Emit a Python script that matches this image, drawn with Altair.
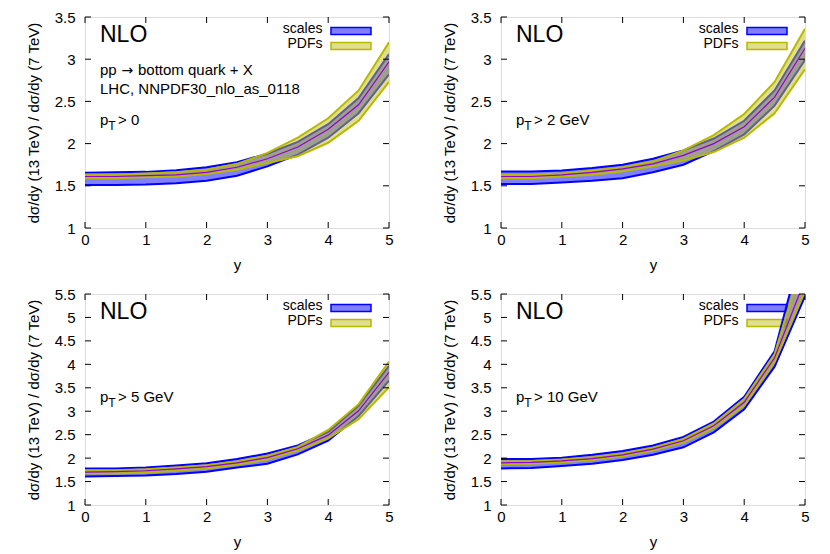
import altair as alt
import pandas as pd

# ---------------- data ----------------
y_rap = [0, 0.5, 1, 1.5, 2, 2.5, 3, 3.5, 4, 4.5, 5]

# pT > 0
c1 = [1.61, 1.61, 1.62, 1.63, 1.66, 1.72, 1.82, 1.96, 2.17, 2.46, 2.97]
su1 = [1.655, 1.66, 1.665, 1.685, 1.72, 1.78, 1.88, 2.02, 2.23, 2.54, 3.06]
sl1 = [1.51, 1.51, 1.515, 1.53, 1.56, 1.62, 1.73, 1.87, 2.07, 2.36, 2.82]
pu1 = [1.635, 1.635, 1.645, 1.66, 1.69, 1.76, 1.89, 2.07, 2.30, 2.63, 3.20]
pl1 = [1.59, 1.59, 1.60, 1.61, 1.64, 1.69, 1.77, 1.85, 2.01, 2.27, 2.73]

# pT > 2 GeV
c2 = [1.61, 1.61, 1.63, 1.66, 1.70, 1.76, 1.86, 2.00, 2.20, 2.55, 3.13]
su2 = [1.67, 1.67, 1.68, 1.71, 1.75, 1.82, 1.92, 2.06, 2.27, 2.63, 3.22]
sl2 = [1.52, 1.52, 1.54, 1.56, 1.59, 1.66, 1.75, 1.91, 2.11, 2.45, 2.99]
pu2 = [1.63, 1.63, 1.65, 1.68, 1.72, 1.79, 1.92, 2.10, 2.35, 2.73, 3.36]
pl2 = [1.59, 1.59, 1.61, 1.63, 1.67, 1.73, 1.80, 1.90, 2.07, 2.36, 2.88]

# pT > 5 GeV
c3 = [1.70, 1.71, 1.73, 1.77, 1.82, 1.90, 2.01, 2.20, 2.49, 3.01, 3.83]
su3 = [1.78, 1.78, 1.80, 1.84, 1.89, 1.98, 2.10, 2.27, 2.56, 3.12, 3.97]
sl3 = [1.61, 1.62, 1.63, 1.66, 1.71, 1.80, 1.88, 2.08, 2.37, 2.90, 3.65]
pu3 = [1.74, 1.74, 1.76, 1.80, 1.85, 1.93, 2.05, 2.24, 2.60, 3.15, 4.06]
pl3 = [1.67, 1.67, 1.69, 1.73, 1.78, 1.86, 1.97, 2.16, 2.42, 2.83, 3.51]

# pT > 10 GeV
c4 = [1.90, 1.91, 1.94, 1.99, 2.07, 2.19, 2.37, 2.69, 3.19, 4.14, 5.81]
su4 = [1.98, 1.98, 2.01, 2.07, 2.15, 2.27, 2.45, 2.78, 3.31, 4.28, 6.74]
sl4 = [1.78, 1.79, 1.83, 1.88, 1.96, 2.07, 2.23, 2.55, 3.04, 3.95, 5.45]
pu4 = [1.93, 1.94, 1.97, 2.02, 2.10, 2.22, 2.41, 2.74, 3.26, 4.22, 6.37]
pl4 = [1.87, 1.88, 1.91, 1.96, 2.04, 2.16, 2.33, 2.64, 3.12, 4.05, 5.57]

x_ticks = [0, 1, 2, 3, 4, 5]
y_ticks_top = [1, 1.5, 2, 2.5, 3, 3.5]
y_ticks_bottom = [1, 1.5, 2, 2.5, 3, 3.5, 4, 4.5, 5, 5.5]

pt_labels = ["> 0", "> 2 GeV", "> 5 GeV", "> 10 GeV"]
y_title = "dσ/dy (13 TeV) / dσ/dy (7 TeV)"

FONT = "Liberation Sans"
W, H = 304, 211
BLUE = "#0000ff"
YEL = "#b8b800"
YFILL = "#c0c020"
PURPLE = "#9400d3"


def one_text(txt, x, y, size=15, align="left", font=FONT):
    return alt.Chart(pd.DataFrame({"t": [txt]})).mark_text(
        align=align, baseline="alphabetic", fontSize=size, font=font, color="black"
    ).encode(text="t:N", x=alt.value(x), y=alt.value(y))


def panel(c, su, sl, pu, pl, ymax, yticks, ptlab, extra):
    df = pd.DataFrame({"x": y_rap, "c": c, "su": su, "sl": sl, "pu": pu, "pl": pl})
    xs = alt.Scale(domain=[0, 5], nice=False, zero=False)
    ys = alt.Scale(domain=[1, ymax], nice=False, zero=False)
    common = dict(ticks=False, tickSize=0, domain=False, grid=False,
                  labelFontSize=15, titleFontSize=15, titleFontWeight="normal",
                  labelFont=FONT, titleFont=FONT, labelColor="black", titleColor="black",
                  labelFlush=False, labelOverlap=False)
    xaxis = alt.Axis(values=x_ticks, title="y", format="d", labelPadding=4,
                     titlePadding=10, **common)
    yaxis = alt.Axis(values=yticks, title=y_title, format="~g", labelPadding=10,
                     titlePadding=13, **common)
    X = alt.X("x:Q", scale=xs, axis=xaxis)

    def Y(f):
        return alt.Y(f + ":Q", scale=ys, axis=yaxis)

    base = alt.Chart(df).encode(x=X)
    layers = []

    # legend
    layers.append(one_text("scales", 237.5, 16, size=14, align="right"))
    layers.append(one_text("PDFs", 237.5, 31, size=14, align="right"))
    one = pd.DataFrame({"a": [0]})
    layers.append(alt.Chart(one).mark_rect(fill=BLUE, fillOpacity=0.5, stroke=BLUE, strokeWidth=1.5)
                  .encode(x=alt.value(246), x2=alt.value(286), y=alt.value(10.5), y2=alt.value(17.5)))
    layers.append(alt.Chart(one).mark_rect(fill=YFILL, fillOpacity=0.5, stroke=YEL, strokeWidth=1.5)
                  .encode(x=alt.value(246), x2=alt.value(286), y=alt.value(25.5), y2=alt.value(32.5)))

    # scale band
    layers.append(base.mark_area(fill=BLUE, fillOpacity=0.5, clip=True).encode(y=Y("sl"), y2="su:Q"))
    layers.append(base.mark_line(color=BLUE, strokeWidth=2, clip=True).encode(y=Y("su")))
    layers.append(base.mark_line(color=BLUE, strokeWidth=2, clip=True).encode(y=Y("sl")))
    # pdf band
    layers.append(base.mark_area(fill=YFILL, fillOpacity=0.5, clip=True).encode(y=Y("pl"), y2="pu:Q"))
    layers.append(base.mark_line(color=YEL, strokeWidth=2, clip=True).encode(y=Y("pu")))
    layers.append(base.mark_line(color=YEL, strokeWidth=2, clip=True).encode(y=Y("pl")))
    # central
    layers.append(base.mark_line(color=PURPLE, strokeWidth=1.2, clip=True).encode(y=Y("c")))

    # inward ticks (mirrored)
    ydf = pd.DataFrame({"t": yticks})
    xdf = pd.DataFrame({"t": x_ticks})
    layers.append(alt.Chart(ydf).mark_rule(color="black", strokeWidth=1)
                  .encode(y=alt.Y("t:Q", scale=ys, axis=yaxis), x=alt.value(0), x2=alt.value(6)))
    layers.append(alt.Chart(ydf).mark_rule(color="black", strokeWidth=1)
                  .encode(y=alt.Y("t:Q", scale=ys, axis=yaxis), x=alt.value(W - 6), x2=alt.value(W)))
    layers.append(alt.Chart(xdf).mark_rule(color="black", strokeWidth=1)
                  .encode(x=alt.X("t:Q", scale=xs, axis=xaxis), y=alt.value(H - 6), y2=alt.value(H)))
    layers.append(alt.Chart(xdf).mark_rule(color="black", strokeWidth=1)
                  .encode(x=alt.X("t:Q", scale=xs, axis=xaxis), y=alt.value(0), y2=alt.value(6)))

    # annotations
    layers.append(one_text("NLO", 15, 25, size=23))
    if extra:
        layers.append(one_text("pp", 15, 57.7))
        layers.append(one_text("→", 36.5, 57.7, size=14, font="DejaVu Sans"))
        layers.append(one_text("bottom quark + X", 53, 57.7))
        layers.append(one_text("LHC, NNPDF30_nlo_as_0118", 15, 76.7))
    layers.append(one_text("p", 15, 108.4))
    layers.append(one_text("T", 23.3, 112.5, size=12))
    layers.append(one_text(ptlab, 33, 108.4))

    return alt.layer(*layers).properties(width=W, height=H)


p1 = panel(c1, su1, sl1, pu1, pl1, 3.5, y_ticks_top, pt_labels[0], True)
p2 = panel(c2, su2, sl2, pu2, pl2, 3.5, y_ticks_top, pt_labels[1], False)
p3 = panel(c3, su3, sl3, pu3, pl3, 5.5, y_ticks_bottom, pt_labels[2], False)
p4 = panel(c4, su4, sl4, pu4, pl4, 5.5, y_ticks_bottom, pt_labels[3], False)

chart = alt.concat(p1, p2, p3, p4, columns=2, spacing={"row": 66, "column": 112},
                   bounds="flush").properties(
    padding={"left": 17, "top": 1, "right": 5, "bottom": 2}
).configure_view(stroke="black", strokeWidth=1).configure(background="white")

chart.save("out.html", embed_options={"renderer": "svg", "actions": False})
